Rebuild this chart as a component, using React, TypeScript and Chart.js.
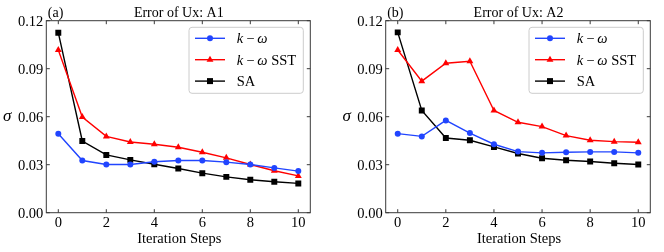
import React, { useEffect, useRef } from "react";
import { Chart, registerables } from "chart.js";

Chart.register(...registerables);

const steps = [0, 1, 2, 3, 4, 5, 6, 7, 8, 9, 10];
const xTicks = [0, 2, 4, 6, 8, 10];
const yTicks = [0, 0.03, 0.06, 0.09, 0.12];

const a1KOmega = [0.0494, 0.0326, 0.0301, 0.0301, 0.0318, 0.0326, 0.0326, 0.0316, 0.0301, 0.028, 0.026];
const a1SST = [0.1017, 0.0598, 0.0477, 0.0442, 0.0428, 0.0409, 0.0378, 0.0343, 0.0301, 0.0262, 0.023];
const a1SA = [0.1125, 0.0448, 0.0361, 0.033, 0.0303, 0.0276, 0.0247, 0.0224, 0.0206, 0.0193, 0.0183];

const a2KOmega = [0.0494, 0.0477, 0.0577, 0.0498, 0.0428, 0.0382, 0.0374, 0.0378, 0.038, 0.038, 0.0374];
const a2SST = [0.1017, 0.0822, 0.0934, 0.0947, 0.0639, 0.0565, 0.0538, 0.0482, 0.0453, 0.0444, 0.044];
const a2SA = [0.1127, 0.0639, 0.0467, 0.0453, 0.0411, 0.037, 0.034, 0.0328, 0.032, 0.0309, 0.0301];

const BLUE = "#2145ff";
const RED = "#ff0000";
const BLACK = "#000000";
const SERIF = '"Liberation Serif", "Times New Roman", serif';
const AXIS = "#3a3a3a";

type PanelProps = {
  tag: string;
  title: string;
  kOmega: number[];
  sst: number[];
  sa: number[];
  plotLeft: number;
  plotRight: number;
  offsetX: number;
};

const W = 332;
const H = 252;
const PLOT_TOP = 20.7;
const PLOT_BOTTOM = 212.7;

function drawMarker(ctx: CanvasRenderingContext2D, style: string, x: number, y: number, color: string) {
  ctx.fillStyle = color;
  ctx.beginPath();
  if (style === "circle") {
    ctx.arc(x, y, 3, 0, Math.PI * 2);
  } else if (style === "triangle") {
    const r = 4;
    ctx.moveTo(x, y - r);
    ctx.lineTo(x + r * 0.866, y + r * 0.5);
    ctx.lineTo(x - r * 0.866, y + r * 0.5);
    ctx.closePath();
  } else {
    ctx.rect(x - 3, y - 3, 6, 6);
  }
  ctx.fill();
}

function Panel(props: PanelProps) {
  const ref = useRef<HTMLCanvasElement | null>(null);
  useEffect(() => {
    const canvas = ref.current;
    if (!canvas) return;
    const mk = (vals: number[]) => steps.map((s, i) => ({ x: s, y: vals[i] }));

    const decor = {
      id: "decor",
      afterDatasetsDraw(chart: any) {
        const { ctx, chartArea } = chart;
        const { left, right, top, bottom } = chartArea;
        const xs = chart.scales.x;
        const ys = chart.scales.y;
        ctx.save();
        ctx.strokeStyle = AXIS;
        ctx.lineWidth = 1;
        ctx.strokeRect(left, top, right - left, bottom - top);
        const tl = 3.5;
        ctx.beginPath();
        for (const v of xTicks) {
          const px = xs.getPixelForValue(v);
          ctx.moveTo(px, bottom);
          ctx.lineTo(px, bottom - tl);
          ctx.moveTo(px, top);
          ctx.lineTo(px, top + tl);
        }
        for (const v of yTicks) {
          const py = ys.getPixelForValue(v);
          ctx.moveTo(left, py);
          ctx.lineTo(left + tl, py);
          ctx.moveTo(right, py);
          ctx.lineTo(right - tl, py);
        }
        ctx.stroke();
        ctx.restore();
      },
      afterDraw(chart: any) {
        const { ctx, chartArea } = chart;
        const { left, right, top, bottom } = chartArea;
        const xs = chart.scales.x;
        const ys = chart.scales.y;
        ctx.save();
        ctx.fillStyle = "#000";
        // tick labels
        ctx.font = `14.5px ${SERIF}`;
        ctx.textAlign = "center";
        ctx.textBaseline = "alphabetic";
        for (const v of xTicks) {
          ctx.fillText(String(v), xs.getPixelForValue(v), 226.7);
        }
        ctx.textAlign = "right";
        for (const v of yTicks) {
          ctx.fillText(v.toFixed(2), left - 3, ys.getPixelForValue(v) + 4.8);
        }
        // title
        ctx.font = `14px ${SERIF}`;
        ctx.textAlign = "center";
        ctx.fillText(props.title, (left + right) / 2 + 0.5, 17);
        ctx.textAlign = "left";
        ctx.fillText(props.tag, left + 1.5, 16.5);
        // x label
        ctx.font = `14.5px ${SERIF}`;
        ctx.textAlign = "center";
        ctx.fillText("Iteration Steps", (left + right) / 2 + 1, 242.5);
        // y label
        ctx.font = `italic 17px ${SERIF}`;
        ctx.textAlign = "center";
        ctx.fillText("\u03c3", left - 39, (top + bottom) / 2 + 4);

        // legend
        const bx = right - 7 - 114.3;
        const by = top + 6.6;
        const bw = 114.3;
        const bh = 66;
        ctx.beginPath();
        const r = 3;
        ctx.moveTo(bx + r, by);
        ctx.lineTo(bx + bw - r, by);
        ctx.quadraticCurveTo(bx + bw, by, bx + bw, by + r);
        ctx.lineTo(bx + bw, by + bh - r);
        ctx.quadraticCurveTo(bx + bw, by + bh, bx + bw - r, by + bh);
        ctx.lineTo(bx + r, by + bh);
        ctx.quadraticCurveTo(bx, by + bh, bx, by + bh - r);
        ctx.lineTo(bx, by + r);
        ctx.quadraticCurveTo(bx, by, bx + r, by);
        ctx.closePath();
        ctx.fillStyle = "rgba(255,255,255,0.85)";
        ctx.fill();
        ctx.strokeStyle = "#cccccc";
        ctx.lineWidth = 1;
        ctx.stroke();

        const rows = [
          { color: BLUE, marker: "circle", sst: false, sa: false },
          { color: RED, marker: "triangle", sst: true, sa: false },
          { color: BLACK, marker: "rect", sst: false, sa: true },
        ];
        rows.forEach((row, i) => {
          const ry = by + 11 + i * 21.4;
          const lx0 = bx + 6;
          const lx1 = bx + 36;
          ctx.strokeStyle = row.color;
          ctx.lineWidth = 1.4;
          ctx.beginPath();
          ctx.moveTo(lx0, ry);
          ctx.lineTo(lx1, ry);
          ctx.stroke();
          drawMarker(ctx, row.marker, (lx0 + lx1) / 2, ry, row.color);
          ctx.fillStyle = "#000";
          ctx.textAlign = "left";
          ctx.textBaseline = "middle";
          let tx = bx + 47.7;
          if (row.sa) {
            ctx.font = `14.5px ${SERIF}`;
            ctx.fillText("SA", tx, ry + 1);
          } else {
            ctx.font = `italic 14.5px ${SERIF}`;
            ctx.fillText("k", tx, ry + 1);
            tx += ctx.measureText("k").width + 3;
            ctx.font = `14.5px ${SERIF}`;
            ctx.fillText("\u2212", tx, ry + 1);
            tx += ctx.measureText("\u2212").width + 3;
            ctx.font = `italic 14.5px ${SERIF}`;
            ctx.fillText("\u03c9", tx, ry + 1);
            tx += ctx.measureText("\u03c9").width;
            if (row.sst) {
              ctx.font = `14.5px ${SERIF}`;
              ctx.fillText(" SST", tx, ry + 1);
            }
          }
        });
        ctx.restore();
      },
    };

    const chart = new Chart(canvas, {
      type: "line",
      data: {
        datasets: [
          {
            label: "k-ω",
            data: mk(props.kOmega),
            borderColor: BLUE,
            backgroundColor: BLUE,
            borderWidth: 1.4,
            pointStyle: "circle",
            pointRadius: 3,
            pointBorderWidth: 0,
            tension: 0,
          },
          {
            label: "k-ω SST",
            data: mk(props.sst),
            borderColor: RED,
            backgroundColor: RED,
            borderWidth: 1.4,
            pointStyle: "triangle",
            pointRadius: 4,
            pointBorderWidth: 0,
            tension: 0,
          },
          {
            label: "SA",
            data: mk(props.sa),
            borderColor: BLACK,
            backgroundColor: BLACK,
            borderWidth: 1.4,
            pointStyle: "rect",
            pointRadius: 4.2,
            pointBorderWidth: 0,
            tension: 0,
          },
        ],
      },
      options: {
        responsive: false,
        animation: false,
        events: [],
        layout: {
          padding: { left: 0, top: PLOT_TOP, right: W - props.plotRight, bottom: 0 },
        },
        plugins: {
          legend: { display: false },
          title: { display: false },
          tooltip: { enabled: false },
        },
        scales: {
          x: {
            type: "linear",
            min: -0.5,
            max: 10.5,
            afterBuildTicks: (s: any) => {
              s.ticks = xTicks.map((v) => ({ value: v }));
            },
            afterFit: (s: any) => {
              s.height = H - PLOT_BOTTOM;
            },
            ticks: { display: false },
            grid: { display: false, drawTicks: false },
            border: { display: false },
          },
          y: {
            type: "linear",
            min: 0,
            max: 0.12,
            afterBuildTicks: (s: any) => {
              s.ticks = yTicks.map((v) => ({ value: v }));
            },
            afterFit: (s: any) => {
              s.width = props.plotLeft;
            },
            ticks: { display: false },
            grid: { display: false, drawTicks: false },
            border: { display: false },
          },
        },
      },
      plugins: [decor],
    } as any);
    return () => chart.destroy();
  }, []);

  return (
    <canvas
      ref={ref}
      width={W}
      height={H}
      style={{ position: "absolute", left: props.offsetX, top: 0, width: W, height: H, display: "block" }}
    />
  );
}

export default function App() {
  return (
    <div style={{ position: "fixed", left: 0, top: 0, width: 664, height: 252, background: "#fff", overflow: "hidden" }}>
      <Panel tag="(a)" title="Error of Ux: A1" kOmega={a1KOmega} sst={a1SST} sa={a1SA} plotLeft={46.3} plotRight={310.3} offsetX={0} />
      <Panel tag="(b)" title="Error of Ux: A2" kOmega={a2KOmega} sst={a2SST} sa={a2SA} plotLeft={53.7} plotRight={318.3} offsetX={332} />
    </div>
  );
}
